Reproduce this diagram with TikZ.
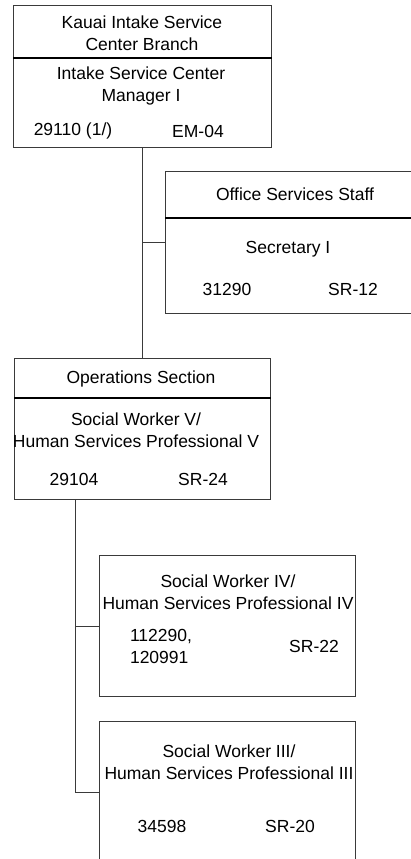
\documentclass[tikz,border=0pt]{standalone}
\usepackage{fontspec}
\setmainfont{Liberation Sans}
\usepackage{tikz}
\definecolor{boxgray}{HTML}{3A3A3A}

\begin{document}
\begin{tikzpicture}[x=1pt,y=-1pt,
  box/.style={draw=boxgray,line width=0.8pt,anchor=north west,inner sep=0pt},
  rule/.style={draw=black,line width=1.3pt},
  link/.style={draw=boxgray,line width=0.8pt},
  lbl/.style={inner sep=0pt,align=center,font=\fontsize{17.5}{22}\selectfont}]
  \useasboundingbox (0,0) rectangle (411,859);
  % boxes
  \node[box,minimum width=258pt,minimum height=142pt] (kauai) at (13,5) {};
  \node[box,minimum width=260pt,minimum height=142pt] (office) at (165,171) {};
  \node[box,minimum width=256pt,minimum height=141pt] (ops) at (14,358) {};
  \node[box,minimum width=256pt,minimum height=141pt] (sw4) at (99,555) {};
  \node[box,minimum width=256pt,minimum height=142pt] (sw3) at (99,721) {};
  % header rules
  \draw[rule] ([yshift=-53pt]kauai.north west) -- ([yshift=-53pt]kauai.north east);
  \draw[rule] ([yshift=-47pt]office.north west) -- ([yshift=-47pt]office.north east);
  \draw[rule] ([yshift=-40pt]ops.north west) -- ([yshift=-40pt]ops.north east);
  % texts
  \node[lbl] (kauaiT) at (142,33) {Kauai Intake Service\\Center Branch};
  \node[lbl] (kauaiJob) at (141,86) {Intake Service Center\\Manager I};
  \node[lbl] (kauaiNum) at (73,131) {29110 (1/)};
  \node[lbl] (kauaiGrade) at (198,131) {EM-04};
  \node[lbl] (officeT) at (295,194) {Office Services Staff};
  \node[lbl] (officeJob) at (288,249) {Secretary I};
  \node[lbl] (officeNum) at (227,289) {31290};
  \node[lbl] (officeGrade) at (353,289) {SR-12};
  \node[lbl] (opsT) at (141,379) {Operations Section};
  \node[lbl] (opsJob) at (136,430) {Social Worker V/\\Human Services Professional V};
  \node[lbl] (opsNum) at (74,479) {29104};
  \node[lbl] (opsGrade) at (203,479) {SR-24};
  \node[lbl] (sw4Job) at (228,592) {Social Worker IV/\\Human Services Professional IV};
  \node[lbl,align=left] (sw4Num) at (161,646) {112290,\\120991};
  \node[lbl] (sw4Grade) at (314,646) {SR-22};
  \node[lbl] (sw3Job) at (229,762) {Social Worker III/\\Human Services Professional III};
  \node[lbl] (sw3Num) at (162,826) {34598};
  \node[lbl] (sw3Grade) at (290,826) {SR-20};
  % connectors
  \draw[link] (kauai.south) -- (kauai.south |- ops.north);
  \draw[link] (kauai.south |- office.west) -- (office.west);
  \coordinate (drop) at ([xshift=61pt]ops.south west);
  \draw[link] (drop) |- (sw3.west);
  \draw[link] (drop |- sw4.west) -- (sw4.west);
\end{tikzpicture}
\end{document}
